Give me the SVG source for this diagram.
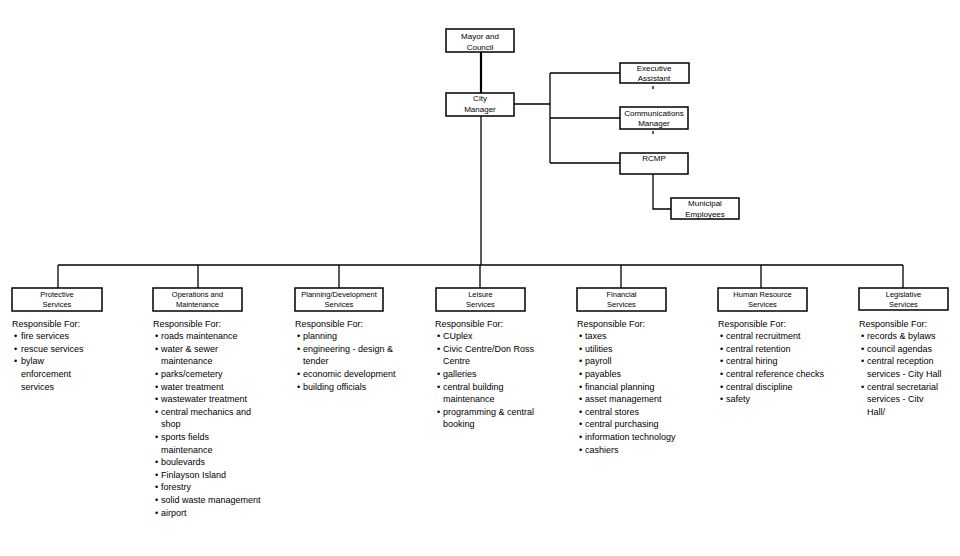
<svg xmlns="http://www.w3.org/2000/svg" width="960" height="556" viewBox="0 0 960 556">
<style>
.box{fill:#fff;stroke:#000;stroke-width:1.5}
.ln{fill:none;stroke:#000;stroke-width:1.3}
.thick{fill:none;stroke:#000;stroke-width:2.2}
.top{font-family:"Liberation Sans",Arial,sans-serif;font-size:8px;text-anchor:middle;fill:#000}
.lbl{font-family:"Liberation Sans",Arial,sans-serif;font-size:7.5px;text-anchor:middle;fill:#000}
.list{font-family:"Liberation Sans",Arial,sans-serif;font-size:9px;fill:#000}
</style>
<rect width="960" height="556" fill="#fff"/>
<g id="connectors">
<path class="thick" d="M481,52V93"/>
<path class="ln" d="M481,116V265"/>
<path class="ln" d="M514,104H550M550,73V163M550,73H620M550,118H620M550,163H620"/>
<path class="ln" d="M653,174V209H671"/>
<path class="ln" d="M653,86V89M653,131V134" stroke-width="1"/>
<path class="ln" d="M58,265H903"/>
<path class="ln" d="M58,265V288M198,265V288M339,265V288M480,265V288M621,265V288M761,265V288M903,265V288"/>
</g>
<g id="mayor">
<rect class="box" x="446" y="29" width="68" height="23"/>
<text class="top" x="480" y="39">Mayor and</text>
<text class="top" x="480" y="50">Council</text>
</g>
<g id="city-manager">
<rect class="box" x="446" y="93" width="68" height="23"/>
<text class="top" x="480" y="101">City</text>
<text class="top" x="480" y="112">Manager</text>
</g>
<g id="executive-assistant">
<rect class="box" x="620" y="63" width="69" height="20"/>
<text class="top" x="654" y="71">Executive</text>
<text class="top" x="654" y="81">Assistant</text>
</g>
<g id="communications-manager">
<rect class="box" x="620" y="107" width="68" height="22"/>
<text class="top" x="654" y="116">Communications</text>
<text class="top" x="654" y="126">Manager</text>
</g>
<g id="rcmp">
<rect class="box" x="620" y="153" width="68" height="21"/>
<text class="top" x="654" y="161">RCMP</text>
</g>
<g id="municipal-employees">
<rect class="box" x="671" y="198" width="68" height="21"/>
<text class="top" x="705" y="206">Municipal</text>
<text class="top" x="705" y="217">Employees</text>
</g>
<g id="protective">
<rect class="box" x="12" y="288" width="90" height="23"/>
<text class="lbl" x="57" y="297">Protective</text>
<text class="lbl" x="57" y="307">Services</text>
<text class="list" x="12" y="326.5">Responsible For:<tspan x="14" dy="12.6">•</tspan><tspan x="21">fire services</tspan><tspan x="14" dy="12.6">•</tspan><tspan x="21">rescue services</tspan><tspan x="14" dy="12.6">•</tspan><tspan x="21">bylaw</tspan><tspan x="21" dy="12.6">enforcement</tspan><tspan x="21" dy="12.6">services</tspan></text>
</g>
<g id="operations">
<rect class="box" x="153" y="288" width="89" height="23"/>
<text class="lbl" x="197.5" y="297">Operations and</text>
<text class="lbl" x="197.5" y="307">Maintenance</text>
<text class="list" x="153" y="326.5">Responsible For:<tspan x="155" dy="12.6">•</tspan><tspan x="161">roads maintenance</tspan><tspan x="155" dy="12.6">•</tspan><tspan x="161">water &amp; sewer</tspan><tspan x="161" dy="12.6">maintenance</tspan><tspan x="155" dy="12.6">•</tspan><tspan x="161">parks/cemetery</tspan><tspan x="155" dy="12.6">•</tspan><tspan x="161">water treatment</tspan><tspan x="155" dy="12.6">•</tspan><tspan x="161">wastewater treatment</tspan><tspan x="155" dy="12.6">•</tspan><tspan x="161">central mechanics and</tspan><tspan x="161" dy="12.6">shop</tspan><tspan x="155" dy="12.6">•</tspan><tspan x="161">sports fields</tspan><tspan x="161" dy="12.6">maintenance</tspan><tspan x="155" dy="12.6">•</tspan><tspan x="161">boulevards</tspan><tspan x="155" dy="12.6">•</tspan><tspan x="161">Finlayson Island</tspan><tspan x="155" dy="12.6">•</tspan><tspan x="161">forestry</tspan><tspan x="155" dy="12.6">•</tspan><tspan x="161">solid waste management</tspan><tspan x="155" dy="12.6">•</tspan><tspan x="161">airport</tspan></text>
</g>
<g id="planning">
<rect class="box" x="295" y="288" width="88" height="23"/>
<text class="lbl" x="339" y="297">Planning/Development</text>
<text class="lbl" x="339" y="307">Services</text>
<text class="list" x="295" y="326.5">Responsible For:<tspan x="297" dy="12.6">•</tspan><tspan x="303">planning</tspan><tspan x="297" dy="12.6">•</tspan><tspan x="303">engineering - design &amp;</tspan><tspan x="303" dy="12.6">tender</tspan><tspan x="297" dy="12.6">•</tspan><tspan x="303">economic development</tspan><tspan x="297" dy="12.6">•</tspan><tspan x="303">building officials</tspan></text>
</g>
<g id="leisure">
<rect class="box" x="436" y="288" width="89" height="23"/>
<text class="lbl" x="480.5" y="297">Leisure</text>
<text class="lbl" x="480.5" y="307">Services</text>
<text class="list" x="435" y="326.5">Responsible For:<tspan x="437" dy="12.6">•</tspan><tspan x="443">CUplex</tspan><tspan x="437" dy="12.6">•</tspan><tspan x="443">Civic Centre/Don Ross</tspan><tspan x="443" dy="12.6">Centre</tspan><tspan x="437" dy="12.6">•</tspan><tspan x="443">galleries</tspan><tspan x="437" dy="12.6">•</tspan><tspan x="443">central building</tspan><tspan x="443" dy="12.6">maintenance</tspan><tspan x="437" dy="12.6">•</tspan><tspan x="443">programming &amp; central</tspan><tspan x="443" dy="12.6">booking</tspan></text>
</g>
<g id="financial">
<rect class="box" x="577" y="288" width="89" height="23"/>
<text class="lbl" x="621.5" y="297">Financial</text>
<text class="lbl" x="621.5" y="307">Services</text>
<text class="list" x="577" y="326.5">Responsible For:<tspan x="579" dy="12.6">•</tspan><tspan x="585">taxes</tspan><tspan x="579" dy="12.6">•</tspan><tspan x="585">utilities</tspan><tspan x="579" dy="12.6">•</tspan><tspan x="585">payroll</tspan><tspan x="579" dy="12.6">•</tspan><tspan x="585">payables</tspan><tspan x="579" dy="12.6">•</tspan><tspan x="585">financial planning</tspan><tspan x="579" dy="12.6">•</tspan><tspan x="585">asset management</tspan><tspan x="579" dy="12.6">•</tspan><tspan x="585">central stores</tspan><tspan x="579" dy="12.6">•</tspan><tspan x="585">central purchasing</tspan><tspan x="579" dy="12.6">•</tspan><tspan x="585">information technology</tspan><tspan x="579" dy="12.6">•</tspan><tspan x="585">cashiers</tspan></text>
</g>
<g id="human-resource">
<rect class="box" x="718" y="288" width="89" height="23"/>
<text class="lbl" x="762.5" y="297">Human Resource</text>
<text class="lbl" x="762.5" y="307">Services</text>
<text class="list" x="718" y="326.5">Responsible For:<tspan x="720" dy="12.6">•</tspan><tspan x="726">central recruitment</tspan><tspan x="720" dy="12.6">•</tspan><tspan x="726">central retention</tspan><tspan x="720" dy="12.6">•</tspan><tspan x="726">central hiring</tspan><tspan x="720" dy="12.6">•</tspan><tspan x="726">central reference checks</tspan><tspan x="720" dy="12.6">•</tspan><tspan x="726">central discipline</tspan><tspan x="720" dy="12.6">•</tspan><tspan x="726">safety</tspan></text>
</g>
<g id="legislative">
<rect class="box" x="859" y="288" width="89" height="22"/>
<text class="lbl" x="903.5" y="297">Legislative</text>
<text class="lbl" x="903.5" y="307">Services</text>
<text class="list" x="859" y="326.5">Responsible For:<tspan x="861" dy="12.6">•</tspan><tspan x="867">records &amp; bylaws</tspan><tspan x="861" dy="12.6">•</tspan><tspan x="867">council agendas</tspan><tspan x="861" dy="12.6">•</tspan><tspan x="867">central reception</tspan><tspan x="867" dy="12.6">services - City Hall</tspan><tspan x="861" dy="12.6">•</tspan><tspan x="867">central secretarial</tspan><tspan x="867" dy="12.6">services - Citv</tspan><tspan x="867" dy="12.6">Hall/</tspan></text>
</g>
</svg>
